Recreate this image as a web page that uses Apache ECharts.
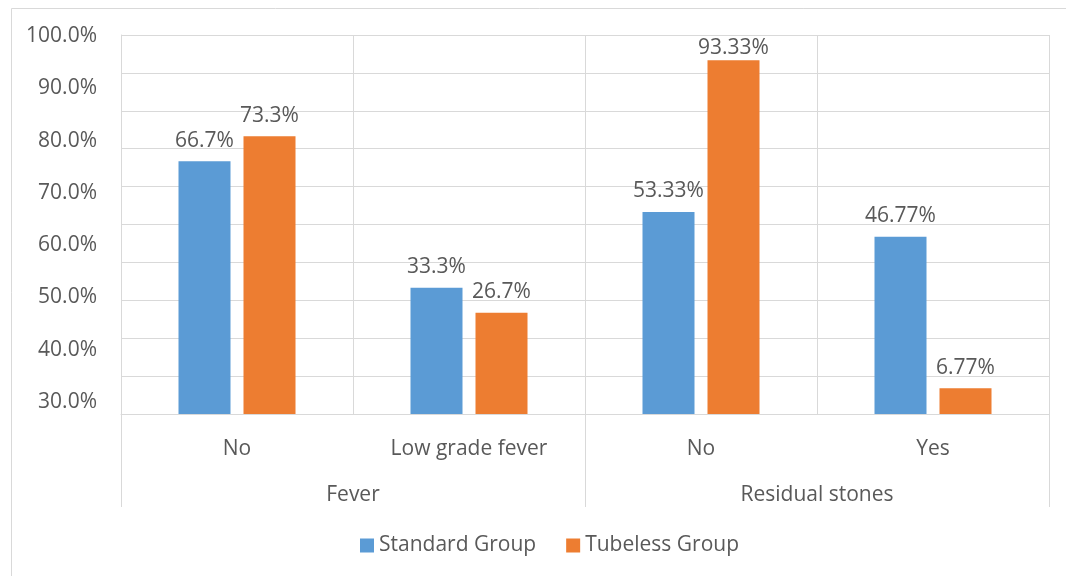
<!DOCTYPE html>
<html>
<head>
<meta charset="utf-8">
<script src="https://cdn.jsdelivr.net/npm/echarts@6/dist/echarts.min.js"></script>
<style>
html,body{margin:0;padding:0;background:#fff;}
#chart{width:1066px;height:576px;}
</style>
</head>
<body>
<div id="chart"></div>
<script>
const categories = ['No', 'Low grade fever', 'No', 'Yes'];
const groups = ['Fever', 'Residual stones'];
const standardGroup = [66.7, 33.3, 53.33, 46.77];
const tubelessGroup = [73.3, 26.7, 93.33, 6.77];
const tickLabels = [30, 40, 50, 60, 70, 80, 90, 100];

const FONT = 'Open Sans';
const TXT = '#595959';
const GRID = '#d9d9d9';
const FS = 21;

function barData(values, tightIdx) {
  return values.map((v, i) => {
    const d = { value: v };
    if (i === tightIdx) d.label = { distance: 2 };
    return d;
  });
}

const chart = echarts.init(document.getElementById('chart'), null, { renderer: 'canvas' });
chart.setOption({
  animation: false,
  backgroundColor: '#fff',
  textStyle: { fontFamily: FONT },
  graphic: [{
    type: 'rect', left: 9, top: 6, silent: true,
    shape: { width: 1100, height: 620 },
    style: { fill: 'none', stroke: GRID, lineWidth: 1 }
  }],
  grid: [
    { left: 121, right: 17, top: 35, bottom: 162, containLabel: false },
    { left: 121, right: 17, top: 36, bottom: 174, containLabel: false }
  ],
  legend: {
    left: 360, top: 535, padding: 0,
    itemWidth: 14, itemHeight: 14, itemGap: 30,
    icon: 'rect',
    textStyle: { fontFamily: FONT, fontSize: FS, color: TXT },
    data: ['Standard Group', 'Tubeless Group']
  },
  xAxis: [
    {
      type: 'category', gridIndex: 0, data: categories, position: 'bottom',
      axisLine: { show: true, lineStyle: { color: GRID } },
      axisTick: { show: false },
      splitLine: { show: true, lineStyle: { color: GRID, width: 1 } },
      axisLabel: { color: TXT, fontSize: FS, fontFamily: FONT, margin: 25, interval: 0 }
    },
    {
      type: 'category', gridIndex: 0, data: groups, position: 'bottom', offset: 0,
      axisLine: { show: false },
      axisTick: { show: true, length: 93, lineStyle: { color: GRID } },
      splitLine: { show: false },
      axisLabel: { color: TXT, fontSize: FS, fontFamily: FONT, margin: 71, interval: 0 }
    },
    {
      type: 'category', gridIndex: 1, data: ['a'], show: false
    }
  ],
  yAxis: [
    {
      type: 'value', gridIndex: 0, min: 0, max: 100, interval: 10,
      axisLine: { show: true, lineStyle: { color: GRID } },
      axisTick: { show: false },
      axisLabel: { show: false },
      splitLine: { show: true, lineStyle: { color: GRID, width: 1 } }
    },
    {
      type: 'value', gridIndex: 1, min: tickLabels[0], max: tickLabels[tickLabels.length - 1], interval: 10,
      axisLine: { show: false },
      axisTick: { show: false },
      splitLine: { show: false },
      axisLabel: {
        color: TXT, fontSize: FS, fontFamily: FONT, margin: 24,
        formatter: v => v.toFixed(1) + '%'
      }
    }
  ],
  series: [
    {
      name: 'Standard Group', type: 'bar', xAxisIndex: 0, yAxisIndex: 0,
      data: barData(standardGroup, -1),
      barWidth: 52, barGap: '25%',
      itemStyle: { color: '#5B9BD5' },
      label: { show: true, position: 'top', distance: 10, color: TXT, fontSize: FS, fontFamily: FONT,
        formatter: p => p.value + '%' }
    },
    {
      name: 'Tubeless Group', type: 'bar', xAxisIndex: 0, yAxisIndex: 0,
      data: barData(tubelessGroup, 2),
      barWidth: 52, barGap: '25%',
      itemStyle: { color: '#ED7D31' },
      label: { show: true, position: 'top', distance: 10, color: TXT, fontSize: FS, fontFamily: FONT,
        formatter: p => p.value + '%' }
    }
  ]
});
</script>
</body>
</html>
